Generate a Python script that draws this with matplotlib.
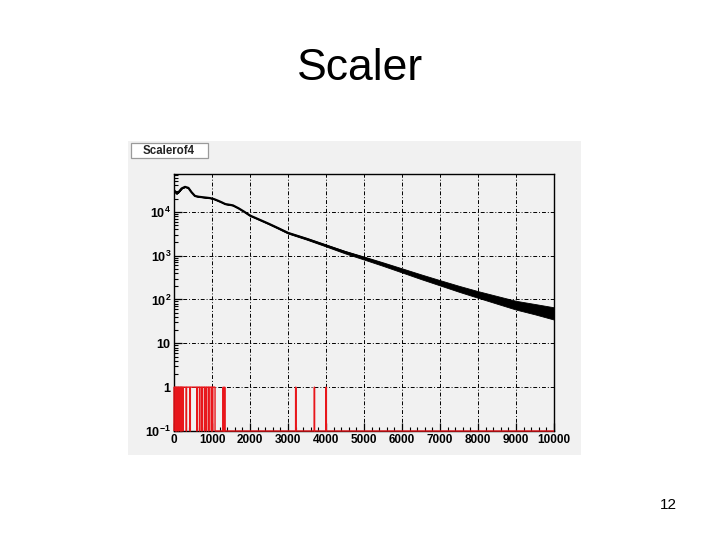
import numpy as np
import matplotlib
matplotlib.use('Agg')
from matplotlib import pyplot as plt
from matplotlib.patches import Rectangle
from matplotlib.ticker import FixedLocator, LogLocator, MultipleLocator, NullFormatter

plt.rcParams['font.family'] = ['Liberation Sans', 'DejaVu Sans']
plt.rcParams['mathtext.fontset'] = 'custom'
plt.rcParams['mathtext.rm'] = 'Liberation Sans'
plt.rcParams['mathtext.bf'] = 'Liberation Sans:bold'

# black histogram (Scalerof4)
scaler_x = [0, 30, 70, 120, 200, 290, 380, 460, 550, 650, 750, 850, 950, 1050,
            1150, 1250, 1350, 1450, 1550, 1700, 1850, 2000, 2250, 2500, 2750,
            3000, 3500, 4000, 4500, 5000, 5500, 6000, 6500, 7000, 7500, 8000,
            8500, 9000, 9500, 10000]
scaler_y = [3.1e4, 2.9e4, 2.6e4, 2.8e4, 3.4e4, 3.7e4, 3.5e4, 2.8e4, 2.3e4,
            2.2e4, 2.15e4, 2.1e4, 2.05e4, 1.95e4, 1.8e4, 1.65e4, 1.5e4,
            1.45e4, 1.4e4, 1.2e4, 1.0e4, 8.2e3, 6.6e3, 5.3e3, 4.2e3,
            3.3e3, 2.4e3, 1.7e3, 1.2e3, 880, 640, 460, 330, 240, 175, 130,
            98, 74, 60, 48]
# half width of the noise band, in decades
scaler_noise = [0, 0, 0, 0, 0, 0, 0, 0, 0, 0, 0, 0, 0, 0, 0, 0, 0, 0, 0,
                0.003, 0.005, 0.006, 0.008, 0.01, 0.012, 0.014, 0.018, 0.022,
                0.028, 0.034, 0.04, 0.047, 0.054, 0.06, 0.068, 0.076, 0.088,
                0.1, 0.118, 0.14]

# red histogram: content 1 over a range with single empty bins, plus spikes
red_bin_width = 10
red_full_range = (0, 1080)
red_empty_bins = [45, 80, 120, 165, 200, 237, 325, 430, 605, 675, 737, 807,
                  860, 912, 982, 1017]
red_spikes = [1300, 1340, 3210, 3700, 4010]

x_ticks = [0, 1000, 2000, 3000, 4000, 5000, 6000, 7000, 8000, 9000, 10000]
y_ticks = [0.1, 1, 10, 100, 1000, 10000]
y_labels = [r'$\mathbf{10^{-1}}$', r'$\mathbf{1}$', r'$\mathbf{10}$',
            r'$\mathbf{10^{2}}$', r'$\mathbf{10^{3}}$', r'$\mathbf{10^{4}}$']

fig = plt.figure(figsize=(7.2, 5.4), dpi=100)
W, H = 720.0, 540.0

fig.text(360 / W, 1 - 68 / H, 'Scaler', ha='center', va='center', fontsize=32)
fig.text(668 / W, 1 - 505 / H, '12', ha='center', va='center', fontsize=11)

# ROOT canvas background
bg = fig.add_axes([128 / W, 1 - 455 / H, (581 - 128) / W, (455 - 141) / H])
bg.set_facecolor('#f1f1f1')
bg.set_xticks([])
bg.set_yticks([])
for s in bg.spines.values():
    s.set_visible(False)

# title box of the histogram
fig.patches.append(Rectangle((131 / W, 1 - 158 / H), 77 / W, 15 / H,
                             transform=fig.transFigure, fc='white',
                             ec='#9a9a9a', lw=0.9))
fig.text(169 / W, 1 - 150.5 / H, 'Scalerof4', ha='center', va='center',
         fontsize=8.3, fontweight='bold', color='#222222')

ax = fig.add_axes([174 / W, 1 - 431 / H, 380 / W, (431 - 174.3) / H])
ax.set_facecolor('#f1f1f1')
ax.set_yscale('log')
ax.set_xlim(0, 10000)
ax.set_ylim(0.1, 10 ** 4.855)

# black curve with noise band
sx = np.array(scaler_x, dtype=float)
sy = np.array(scaler_y, dtype=float)
sn = np.array(scaler_noise)
ax.fill_between(sx, sy / 10 ** sn, sy * 10 ** sn, color='black', lw=0.6, zorder=3)
ax.plot(sx, sy, color='black', lw=1.6, zorder=3)

# red histogram
edges = np.arange(0, 10000 + red_bin_width, red_bin_width)
centers = edges[:-1] + red_bin_width / 2
counts = np.zeros(len(centers))
counts[(centers >= red_full_range[0]) & (centers <= red_full_range[1])] = 1
for v in red_empty_bins:
    counts[np.argmin(np.abs(centers - v))] = 0
for v in red_spikes:
    counts[np.argmin(np.abs(centers - v))] = 1
counts = np.where(counts > 0, counts, 0.1)
ax.stairs(counts, edges, baseline=0.1, color='#e8161b', lw=1.0, zorder=3.5,
          clip_on=False)

ax.set_xticks(x_ticks)
ax.set_xticklabels([str(t) for t in x_ticks], fontweight='bold', fontsize=8.5)
ax.xaxis.set_minor_locator(MultipleLocator(200))
ax.yaxis.set_major_locator(FixedLocator(y_ticks))
ax.set_yticklabels(y_labels, fontsize=9)
ax.yaxis.set_minor_locator(LogLocator(base=10, subs=np.arange(2, 10), numticks=20))
ax.yaxis.set_minor_formatter(NullFormatter())
ax.tick_params(axis='both', which='major', direction='in', length=6, width=0.9,
               pad=2, top=False, right=False, color='black')
ax.tick_params(axis='both', which='minor', direction='in', length=3, width=0.8,
               top=False, right=False)

ax.grid(True, which='major', color='black', lw=0.7, ls=(0, (4, 2, 1, 2)))
for s in ax.spines.values():
    s.set_linewidth(1.0)
    s.set_color('black')

fig.savefig('out.png', dpi=100, facecolor='white')
